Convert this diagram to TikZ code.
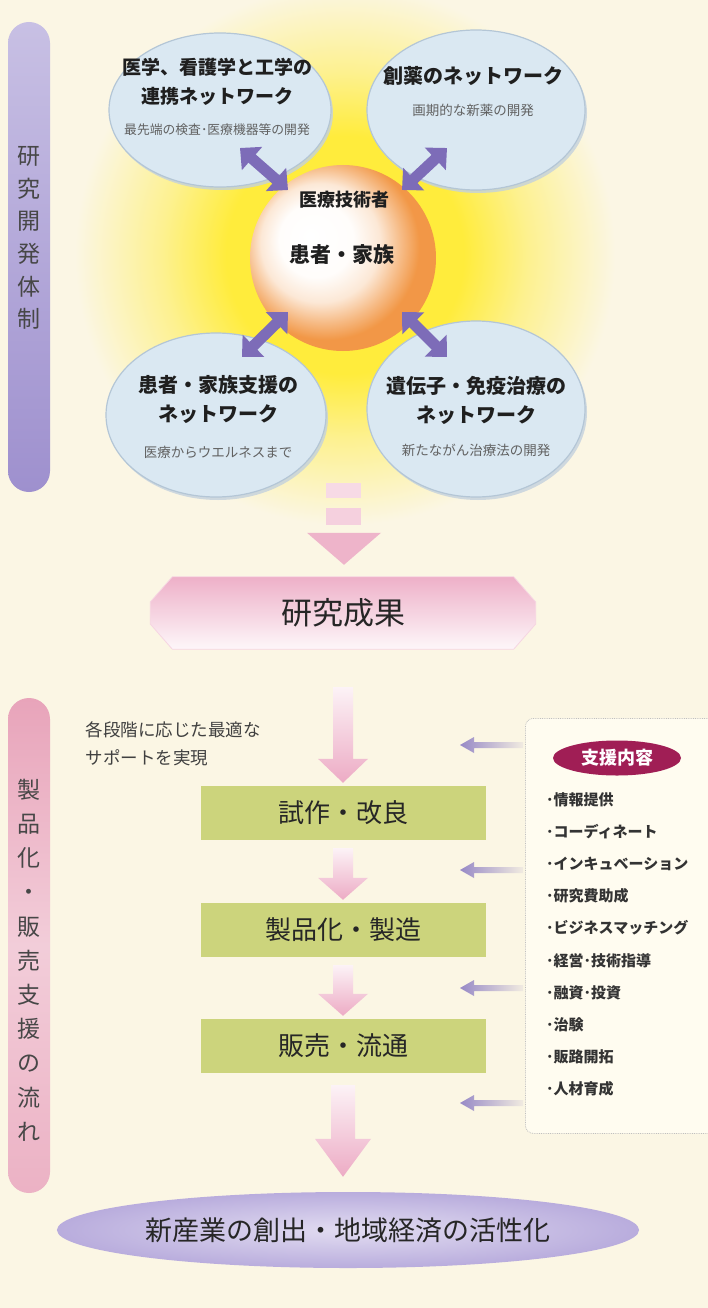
\documentclass[tikz,border=0pt]{standalone}
\usepackage{fontspec}
\setmainfont{Noto Sans CJK JP}
\usetikzlibrary{arrows.meta,calc,shapes.geometric,shadows}
\definecolor{bg}{RGB}{251,246,228}
\definecolor{glowY}{RGB}{255,236,60}
\definecolor{bub}{RGB}{218,232,242}
\definecolor{bubE}{RGB}{180,198,214}
\definecolor{purA}{RGB}{125,108,184}
\definecolor{pinkA}{RGB}{232,150,182}
\definecolor{greenA}{RGB}{204,212,124}
\definecolor{lavTop}{RGB}{200,192,228}
\definecolor{lavBot}{RGB}{158,144,206}
\definecolor{pinkBar}{RGB}{232,164,186}
\definecolor{magA}{RGB}{160,30,85}
\definecolor{ellA}{RGB}{190,178,224}
\definecolor{orA}{RGB}{240,140,50}
\definecolor{supbg}{RGB}{255,252,240}
\pgfdeclareradialshading{glow}{\pgfpoint{0bp}{0bp}}{color(0bp)=(glowY); color(11bp)=(glowY); color(17bp)=(glowY!50!bg); color(25bp)=(bg); color(50bp)=(bg)}
\pgfdeclareradialshading{orb}{\pgfpoint{-9bp}{6bp}}{color(0bp)=(white); color(10bp)=(white!98!orA); color(16bp)=(orA!20!white); color(21bp)=(orA!60!white); color(25bp)=(orA!90); color(50bp)=(orA!90)}
\newcommand{\flowarr}[7]{%
  \shade[top color=pinkA!12, bottom color=pinkA!80] let \p1=($(#1)+(0,#3)$), \p2=($(#2)+(0,-#4)$) in
    (\x1-#5pt,\y1) -- (\x1+#5pt,\y1) -- (\x1+#5pt,\y2+#7pt) -- (\x1+#6pt,\y2+#7pt) -- (\x1,\y2)
    -- (\x1-#6pt,\y2+#7pt) -- (\x1-#5pt,\y2+#7pt) -- cycle;}
\newcommand{\suparr}[2]{%
  \shade[left color=purA!80, right color=purA!8!bg] let \p1=(#1), \p2=(#2) in
    (\x1,\y1+3pt) -- (\x2+14pt,\y1+3pt) -- (\x2+14pt,\y1+8pt) -- (\x2,\y1)
    -- (\x2+14pt,\y1-8pt) -- (\x2+14pt,\y1-3pt) -- (\x1,\y1-3pt) -- cycle;}
\begin{document}
\begin{tikzpicture}[x=1pt,y=-1pt,
  bubble/.style={ellipse, fill=bub, draw=bubE, line width=1.2pt, inner sep=0pt,
    drop shadow={shadow xshift=2pt,shadow yshift=-3pt,fill=bubE!80,opacity=.8}},
  ttl/.style={font=\bfseries\fontsize{20}{29}\selectfont, align=center, text=black!88},
  subt/.style={font=\fontsize{13.5}{16}\selectfont, text=black!62},
  vtext/.style={align=center, text=black!72},
  gbox/.style={rectangle, fill=greenA, minimum width=285pt, minimum height=54pt,
    font=\fontsize{26}{28}\selectfont, text=black!85},
  dbl/.style={draw=purA, line width=11pt,
    {Triangle[length=16pt,width=30pt]}-{Triangle[length=16pt,width=30pt]}},
  item/.style={anchor=west, font=\bfseries\fontsize{15}{18}\selectfont, text=black!80, inner sep=0pt},
]
\useasboundingbox (0,0) rectangle (708,1308);
\fill[bg] (0,0) rectangle (708,1308);
\shade[shading=glow] (345,255) circle[radius=270];

% left bars
\shade[top color=lavTop, bottom color=lavBot, rounded corners=21pt] (8,22) rectangle (50,492);
\node[vtext, font=\fontsize{23}{32.6}\selectfont] (lbl1) at (29,238) {研\\究\\開\\発\\体\\制};
\shade[top color=pinkBar, bottom color=pinkBar!85, middle color=pinkBar!55!white, rounded corners=21pt] (8,698) rectangle (50,1193);
\node[vtext, font=\fontsize{23}{34.2}\selectfont] (lbl2) at (29,960) {製\\品\\化\\・\\販\\売\\支\\援\\の\\流\\れ};

% bubbles
\node[bubble, minimum width=222pt, minimum height=154pt] (b1) at (220,110) {};
\node[bubble, minimum width=218pt, minimum height=160pt] (b2) at (476,110) {};
\node[bubble, minimum width=220pt, minimum height=164pt] (b3) at (216,415) {};
\node[bubble, minimum width=218pt, minimum height=176pt] (b4) at (476,409) {};

% core
\node[circle, minimum size=186pt, inner sep=0pt, shade, shading=orb] (core) at (343,258) {};

% bubble texts
\node[ttl, font=\bfseries\fontsize{19}{29}\selectfont] (t1) at (217,82) {医学、看護学と工学の\\連携ネットワーク};
\node[subt, font=\fontsize{12.8}{15}\selectfont] (s1) at (217,130) {最先端の検査･医療機器等の開発};
\node[ttl] (t2) at (473,76) {創薬のネットワーク};
\node[subt] (s2) at (473,110) {画期的な新薬の開発};
\node[ttl] (t3) at (218,399) {患者・家族支援の\\ネットワーク};
\node[subt] (s3) at (218,452) {医療からウエルネスまで};
\node[ttl] (t4) at (476,400) {遺伝子・免疫治療の\\ネットワーク};
\node[subt] (s4) at (476,450) {新たながん治療法の開発};

\node[font=\bfseries\fontsize{18}{20}\selectfont, text=black!88] (med) at (344,200) {医療技術者};
\node[font=\bfseries\fontsize{21}{24}\selectfont, text=black!88] (pat) at (342,255) {患者・家族};

% double arrows
\coordinate (a1c) at (288,190); \coordinate (a1b) at (240,148);
\coordinate (a2c) at (402,190); \coordinate (a2b) at (447,148);
\coordinate (a3c) at (288,312); \coordinate (a3b) at (242,357);
\coordinate (a4c) at (402,312); \coordinate (a4b) at (447,357);
\draw[dbl] (a1c) -- (a1b);
\draw[dbl] (a2c) -- (a2b);
\draw[dbl] (a3c) -- (a3b);
\draw[dbl] (a4c) -- (a4b);

% research result hexagon
\node[minimum width=385pt, minimum height=72pt] (res) at (343,613) {};
\shade[top color=pinkA!75, bottom color=pinkA!8!white, draw=pinkA!40, line width=0.8pt]
  ($(res.west)+(0,-11)$) -- ($(res.north west)+(22,0)$) -- ($(res.north east)+(-22,0)$) -- ($(res.east)+(0,-11)$)
  -- ($(res.east)+(0,11)$) -- ($(res.south east)+(-22,0)$) -- ($(res.south west)+(22,0)$) -- ($(res.west)+(0,11)$) -- cycle;
\node[font=\fontsize{31}{33}\selectfont, text=black!85] (restxt) at (res.center) {研究成果};

% arrow bubbles -> res
\fill[pinkA!35] ($(res.north)+(-17,-94)$) rectangle ($(res.north)+(18,-79)$);
\fill[pinkA!45] ($(res.north)+(-17,-69)$) rectangle ($(res.north)+(18,-52)$);
\fill[pinkA!72] ($(res.north)+(-36,-44)$) -- ($(res.north)+(38,-44)$) -- ($(res.north)+(1,-12)$) -- cycle;

% flow
\node[anchor=west, align=left, font=\fontsize{17.5}{28}\selectfont, text=black!75] (note) at (82,744) {各段階に応じた最適な\\サポートを実現};
\node[gbox] (proto) at (343,813) {試作・改良};
\node[gbox] (manuf) at (343,930) {製品化・製造};
\node[gbox] (sales) at (343,1046) {販売・流通};
\node[ellipse, minimum width=512pt, minimum height=76pt, shade, inner color=ellA!45!white, outer color=ellA!92!purA,
  font=\fontsize{27}{29}\selectfont, text=black!85] (final) at (348,1230) {新産業の創出・地域経済の活性化};

\flowarr{res.south}{proto.north}{38}{3}{10}{25}{24}
\flowarr{proto.south}{manuf.north}{8}{3}{10}{25}{22}
\flowarr{manuf.south}{sales.north}{8}{3}{10}{25}{22}
\flowarr{sales.south}{final.north}{12}{15}{12}{28}{38}

% support box
\node[draw=gray!50, densely dotted, line width=0.8pt, rounded corners=8pt, fill=supbg, anchor=north west,
  minimum width=200pt, minimum height=415pt] (sup) at (525,718) {};
\node[ellipse, fill=magA, minimum width=128pt, minimum height=35pt, inner sep=0pt, text=white,
  font=\bfseries\fontsize{18}{20}\selectfont] (hd) at (617,758) {支援内容};
\node[item] (i1) at (546,800) {･情報提供};
\node[item] (i2) at (546,832) {･コーディネート};
\node[item] (i3) at (546,864) {･インキュベーション};
\node[item] (i4) at (546,896) {･研究費助成};
\node[item] (i5) at (546,928) {･ビジネスマッチング};
\node[item] (i6) at (546,961) {･経営･技術指導};
\node[item] (i7) at (546,993) {･融資･投資};
\node[item] (i8) at (546,1025) {･治験};
\node[item] (i9) at (546,1057) {･販路開拓};
\node[item] (i10) at (546,1089) {･人材育成};

\coordinate (sa1) at (523,745); \coordinate (ta1) at (460,745);
\coordinate (sa2) at (523,870); \coordinate (ta2) at (460,870);
\coordinate (sa3) at (523,988); \coordinate (ta3) at (460,988);
\coordinate (sa4) at (523,1103); \coordinate (ta4) at (460,1103);
\suparr{sa1}{ta1}
\suparr{sa2}{ta2}
\suparr{sa3}{ta3}
\suparr{sa4}{ta4}
\end{tikzpicture}
\end{document}
